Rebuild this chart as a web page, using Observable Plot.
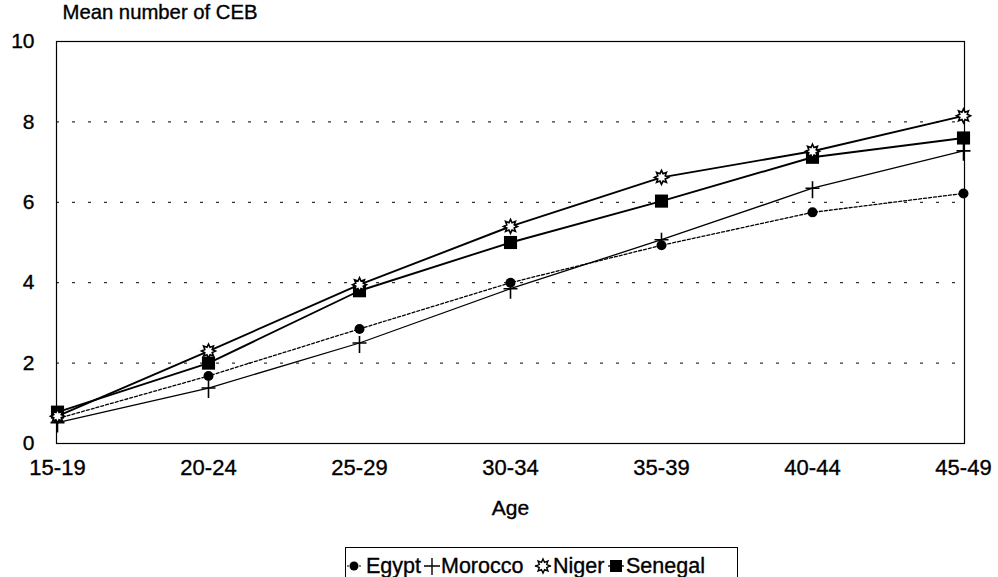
<!DOCTYPE html>
<html>
<head>
<meta charset="utf-8">
<script src="https://cdn.jsdelivr.net/npm/d3@7"></script>
<script src="https://cdn.jsdelivr.net/npm/@observablehq/plot@0.6"></script>
<style>
  html, body { margin: 0; padding: 0; background: #fff; }
  body { width: 998px; height: 577px; overflow: hidden; position: relative; font-family: "Liberation Sans", Arial, sans-serif; }
  #chart text { stroke: #000; stroke-width: 0.35px; }
  #legend { position: absolute; left: 345px; top: 547px; width: 393px; height: 45px; border: 1.3px solid #000; box-sizing: border-box; }
  #legend .lab { position: absolute; top: 5px; font-size: 21.5px; line-height: 26px; color: #000; white-space: nowrap; -webkit-text-stroke: 0.35px #000; }
  #legend svg { position: absolute; top: 0; left: 0; }
</style>
</head>
<body>
<div id="chart"></div>
<div id="legend"></div>
<script>
const ages = ["15-19", "20-24", "25-29", "30-34", "35-39", "40-44", "45-49"];
const egypt   = [0.62, 1.68, 2.85, 4.0, 4.93, 5.75, 6.22];
const morocco = [0.52, 1.38, 2.5, 3.85, 5.07, 6.35, 7.28];
const niger   = [0.68, 2.3, 3.95, 5.4, 6.62, 7.27, 8.15];
const senegal = [0.78, 2.0, 3.8, 5.0, 6.03, 7.12, 7.6];
const countries = ["Egypt", "Morocco", "Niger", "Senegal"];
const yTicks = [0, 2, 4, 6, 8, 10];
const gridTicks = [2, 4, 6, 8];

const rows = (vals) => ages.map((a, i) => ({age: a, value: vals[i]}));

// custom symbols
const plusSymbol = {
  draw(context, size) {
    context.moveTo(-7, 0); context.lineTo(7, 0);
    context.moveTo(0, -7); context.lineTo(0, 10);
  }
};
const starSymbol = {
  draw(context, size) {
    const n = 8, ro = 7, ri = 4;
    for (let i = 0; i < 2 * n; i++) {
      const r = i % 2 === 0 ? ro : ri;
      const a = (Math.PI * i) / n - Math.PI / 2;
      const x = r * Math.cos(a), y = r * Math.sin(a);
      if (i === 0) context.moveTo(x, y); else context.lineTo(x, y);
    }
    context.closePath();
  }
};

const chart = Plot.plot({
  width: 998,
  height: 540,
  marginLeft: 56,
  marginRight: 34,
  marginTop: 41,
  marginBottom: 97,
  style: { fontFamily: "Liberation Sans, Arial, sans-serif", fontSize: "21px", color: "#000", background: "#fff" },
  x: { type: "point", domain: ages, padding: 0, label: null },
  y: { domain: [0, 10], label: null },
  marks: [
    Plot.ruleY(gridTicks, { stroke: "#000", strokeWidth: 1, strokeDasharray: "3,13" }),
    Plot.frame({ stroke: "#000", strokeWidth: 1.2 }),
    Plot.axisY(yTicks, { tickSize: 0, tickPadding: 22, fontSize: 21, tickFormat: d => String(d) }),
    Plot.axisX(ages, { tickSize: 0, tickPadding: 16, fontSize: 22, label: null }),
    Plot.text(["Age"], { frameAnchor: "bottom", dy: 71, fontSize: 21, textAnchor: "middle" }),
    Plot.text(["Mean number of CEB"], { frameAnchor: "top-left", dx: 6, dy: -29, fontSize: 20.3, textAnchor: "start", lineAnchor: "middle" }),
    Plot.line(rows(egypt),   { x: "age", y: "value", stroke: "#000", strokeWidth: 1.3, strokeDasharray: "3,2" }),
    Plot.line(rows(morocco), { x: "age", y: "value", stroke: "#000", strokeWidth: 1.3 }),
    Plot.line(rows(senegal), { x: "age", y: "value", stroke: "#000", strokeWidth: 1.9 }),
    Plot.line(rows(niger),   { x: "age", y: "value", stroke: "#000", strokeWidth: 1.9 }),
    Plot.dot(rows(egypt),   { x: "age", y: "value", symbol: "circle", r: 5, fill: "#000", stroke: "none" }),
    Plot.dot(rows(morocco), { x: "age", y: "value", symbol: plusSymbol, r: 5, fill: "none", stroke: "#000", strokeWidth: 1.6 }),
    Plot.dot(rows(senegal), { x: "age", y: "value", symbol: "square", r: 7.4, fill: "#000", stroke: "none" }),
    Plot.dot(rows(niger),   { x: "age", y: "value", symbol: starSymbol, r: 5, fill: "#fff", stroke: "#000", strokeWidth: 1.6 })
  ]
});
document.getElementById("chart").appendChild(chart);

// legend (positions relative to legend box)
const legendLayout = [
  { name: countries[0], kind: "circle", sx: 8,  tx: 20 },
  { name: countries[1], kind: "plus",   sx: 86, tx: 95 },
  { name: countries[2], kind: "star",   sx: 197, tx: 207 },
  { name: countries[3], kind: "square", sx: 270, tx: 280 }
];
const legend = d3.select("#legend");
const lsvg = legend.append("svg").attr("width", 393).attr("height", 45);
const cy = 18;
for (const it of legendLayout) {
  const s = lsvg.append("g").attr("transform", `translate(${it.sx},${cy})`);
  if (it.kind === "circle") {
    s.append("line").attr("x1", -7).attr("x2", 8).attr("stroke", "#000").attr("stroke-width", 1.2).attr("stroke-dasharray", "2,2");
    s.append("circle").attr("r", 4.5).attr("fill", "#000");
  } else if (it.kind === "plus") {
    s.append("path").attr("d", "M-8,0H8M0,-8V9").attr("stroke", "#000").attr("stroke-width", 1.4).attr("fill", "none");
  } else if (it.kind === "star") {
    s.append("line").attr("x1", -8).attr("x2", 8).attr("stroke", "#000").attr("stroke-width", 1.3);
    s.append("path").attr("d", d3.symbol(starSymbol)()).attr("fill", "#fff").attr("stroke", "#000").attr("stroke-width", 1.4);
  } else {
    s.append("line").attr("x1", -8).attr("x2", 8).attr("stroke", "#000").attr("stroke-width", 1.3);
    s.append("rect").attr("x", -6).attr("y", -6).attr("width", 12).attr("height", 12).attr("fill", "#000");
  }
  legend.append("div").attr("class", "lab").style("left", it.tx + "px").text(it.name);
}
</script>
</body>
</html>
